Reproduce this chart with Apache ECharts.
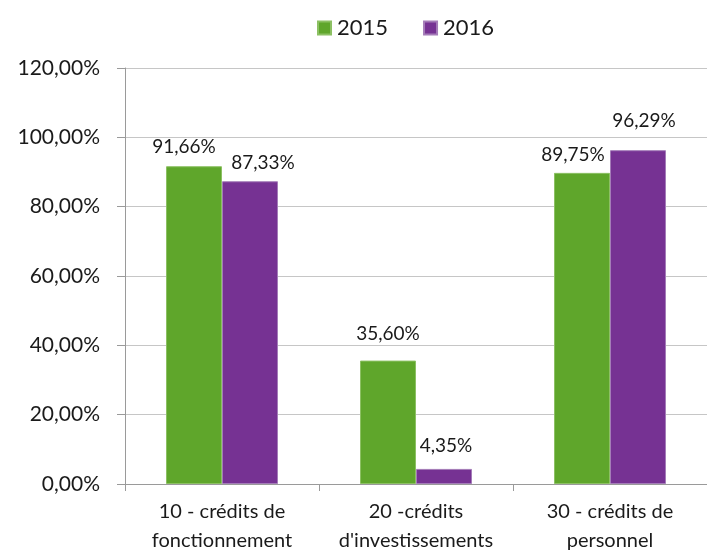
<!DOCTYPE html>
<html><head><meta charset="utf-8">
<script src="https://cdn.jsdelivr.net/npm/echarts@6/dist/echarts.min.js"></script>
<style>html,body{margin:0;padding:0;background:#fff}#c{width:707px;height:555px}</style>
</head><body><div id="c"></div>
<script>
const categories = ["10 - crédits de\nfonctionnement", "20 -crédits\nd'investissements", "30 - crédits de\npersonnel"];
const seriesNames = ["2015", "2016"];
const values2015 = [91.66, 35.60, 89.75];
const values2016 = [87.33, 4.35, 96.29];
const colors = ["#5fa62b", "#763293"];
const borders = ["#8cc063", "#a47cb8"];
// label placement (px offsets of label centre relative to bar top centre)
const labelOffsets2015 = [[-10, -19], [0, -27], [-9, -18]];
const labelOffsets2016 = [[13, -18], [2, -23], [6, -29]];
const font = "Lato";
const txt = '#1a1a1a';
const fmt = v => v.toFixed(2).replace('.', ',') + '%';
function items(vals, offs) {
  return vals.map((v, i) => ({ value: v, label: { offset: offs[i] } }));
}
const chart = echarts.init(document.getElementById('c'));
chart.setOption({
  animation: false,
  textStyle: { fontFamily: font, color: txt },
  legend: {
    top: 12, left: 312, itemWidth: 13, itemHeight: 13, itemGap: 35,
    textStyle: { fontSize: 22, fontFamily: font, color: txt, padding: [0, 0, 0, 1] },
    data: seriesNames.map(n => ({ name: n, icon: 'rect' }))
  },
  grid: { left: 125, top: 68, bottom: 70, width: 586 },
  xAxis: {
    type: 'category', data: categories,
    axisLine: { lineStyle: { color: '#9a9a9a', width: 1 } },
    axisTick: { show: true, alignWithLabel: false, length: 7, lineStyle: { color: '#9a9a9a' } },
    axisLabel: { fontSize: 20, color: txt, fontFamily: font, lineHeight: 29, margin: 13, interval: 0 }
  },
  yAxis: {
    type: 'value', min: 0, max: 120, interval: 20,
    axisLine: { show: true, lineStyle: { color: '#9a9a9a', width: 1 } },
    axisTick: { show: true, length: 8, lineStyle: { color: '#9a9a9a' } },
    splitLine: { show: true, lineStyle: { color: '#c6c6c6', width: 1 } },
    axisLabel: { fontSize: 21, color: txt, fontFamily: font, margin: 25, formatter: v => fmt(v) }
  },
  series: [
    { name: seriesNames[0], type: 'bar', data: items(values2015, labelOffsets2015), barWidth: 56, barGap: '0%',
      itemStyle: { color: colors[0], borderColor: borders[0], borderWidth: 1 },
      label: { show: true, position: 'top', distance: 0, verticalAlign: 'middle', fontSize: 19, color: txt, fontFamily: font, formatter: p => fmt(p.value) } },
    { name: seriesNames[1], type: 'bar', data: items(values2016, labelOffsets2016), barWidth: 56,
      itemStyle: { color: colors[1], borderColor: borders[1], borderWidth: 1 },
      label: { show: true, position: 'top', distance: 0, verticalAlign: 'middle', fontSize: 19, color: txt, fontFamily: font, formatter: p => fmt(p.value) } }
  ]
});
</script></body></html>
